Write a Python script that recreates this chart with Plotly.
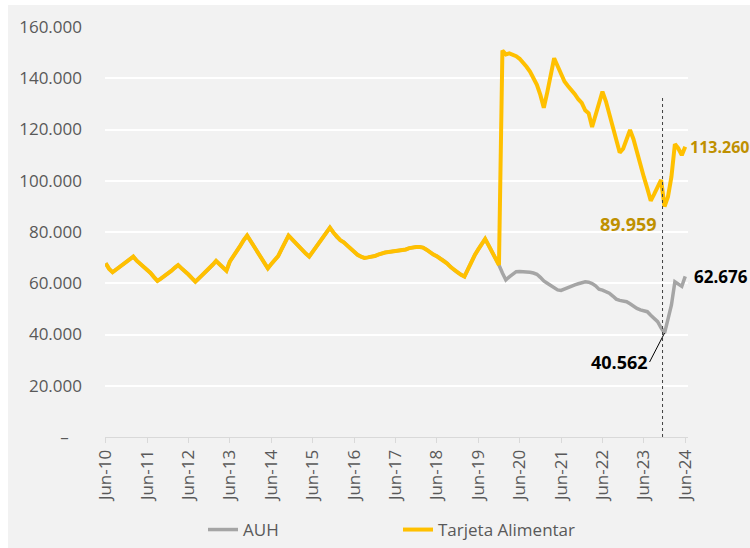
import pandas as pd
import plotly.graph_objects as go

# Monthly labels Jun-10 .. Jun-24
months = pd.date_range("2010-06-01", "2024-06-01", freq="MS").strftime("%b-%y").tolist()

# Values common to both series before the Tarjeta Alimentar started (Jun-10 .. Dec-19)
shared_pre2020 = [
    67800, 65600, 64300, 65300, 66500, 67600, 68600, 69400, 70400, 68800,
    67600, 66600, 65600, 64000, 62400, 60900, 61800, 62700, 63600, 64800,
    66000, 67100, 65800, 64800, 63400, 62000, 60600, 61900, 63100, 64300,
    65800, 67200, 68700, 67400, 66100, 64900, 68500, 70400, 72400, 74600,
    76800, 78600, 76500, 74400, 72300, 70100, 68000, 65800, 67500, 69000,
    70600, 73300, 76000, 78600, 77200, 75700, 74300, 72900, 71600, 70400,
    72300, 74200, 76100, 78000, 79900, 81700, 79800, 78000, 76800, 76000,
    74700, 73400, 72000, 71100, 70400, 69900, 70100, 70300, 70600, 71200,
    71700, 72000, 72200, 72400, 72500, 72600, 72800, 73200, 73700, 74000,
    74100, 74100, 73900, 73100, 72000, 71200, 70500, 69700, 68800, 67700,
    66300, 65200, 64200, 63300, 62600, 65500, 68500, 71000, 73200, 75300,
    77300, 74800, 72300, 69700, 67100,
]

# Jan-20 .. Jun-24
auh_post = [
    64000, 61300, 62500, 63600, 64500, 64600, 64600, 64500, 64300, 64000,
    63500, 62300, 60900, 60000, 59000, 58000, 57400, 57200, 57800, 58500,
    59000, 59400, 59800, 60200, 60600, 60400, 59900, 59000, 57700, 57300,
    56700, 56100, 55000, 53800, 53300, 53100, 52800, 52000, 51000, 50200,
    49600, 49300, 48900, 47500, 46000, 45000, 42600, 40562, 46000, 51500,
    60600, 59600, 58800, 62676,
]
tarjeta_post = [
    150800, 149300, 149700, 149200, 148600, 147600, 146300, 144500, 142600, 140200,
    137400, 133500, 128500, 134500, 141000, 147800, 144800, 141700, 138700, 137000,
    135600, 133800, 131800, 130400, 127500, 126300, 121000, 125500, 130000, 134800,
    131000, 126000, 121100, 116500, 111000, 112500, 115800, 119800, 116200, 111000,
    105500, 101500, 97000, 92200, 94800, 97500, 100300, 89959, 93800, 101600,
    114300, 112600, 110000, 113260,
]

auh = shared_pre2020 + auh_post
tarjeta = shared_pre2020 + tarjeta_post

y_ticks = [0, 20000, 40000, 60000, 80000, 100000, 120000, 140000, 160000]
y_labels = ["–\u00a0\u00a0\u00a0", "20.000", "40.000", "60.000", "80.000",
            "100.000", "120.000", "140.000", "160.000"]
x_ticks = [m for m in months if m.startswith("Jun")]

highlight = "Dec-23"
line_top = 132500

YELLOW = "#FFC000"
GREY = "#A5A5A5"
GOLD = "#BF9000"
TXT = "#595959"

fig = go.Figure()
fig.add_trace(go.Scatter(x=months, y=auh, mode="lines", name="AUH",
                         line=dict(color=GREY, width=3.5)))
fig.add_trace(go.Scatter(x=months, y=tarjeta, mode="lines", name="Tarjeta Alimentar",
                         line=dict(color=YELLOW, width=4)))

hi_idx = months.index(highlight)

fig.update_layout(
    width=750, height=548, autosize=False,
    margin=dict(l=105, r=62, t=27, b=111, pad=0, autoexpand=False),
    paper_bgcolor="white", plot_bgcolor="#F2F2F2",
    font=dict(family="Open Sans", size=17, color=TXT),
    separators=",.",
    showlegend=True,
    legend=dict(orientation="h", xref="container", yref="container",
                x=203 / 750, xanchor="left", y=1 - 530 / 548, yanchor="middle",
                entrywidth=150, entrywidthmode="pixels", bgcolor="rgba(0,0,0,0)",
                font=dict(size=17, color=TXT), traceorder="normal"),
    xaxis=dict(type="category", range=[-0.2, 168.8], tickvals=x_ticks, ticktext=x_ticks,
               tickangle=-90, ticks="outside", ticklen=5, tickcolor="#D9D9D9",
               showline=True, linecolor="#D9D9D9", linewidth=1, showgrid=False,
               automargin=False, tickfont=dict(size=17, color=TXT)),
    yaxis=dict(range=[0, 160000], tickvals=y_ticks, ticktext=y_labels,
               showgrid=True, gridcolor="white", gridwidth=1.5, zeroline=False,
               automargin=False, ticks="", ticklabelstandoff=22,
               tickfont=dict(size=17, color=TXT)),
    shapes=[
        dict(type="rect", xref="paper", yref="paper", x0=-0.1664, x1=1.1063,
             y0=-0.2707, y1=1.0537, fillcolor="#F2F2F2", line=dict(width=0), layer="below"),
        dict(type="line", xref="x", yref="y", xsizemode="pixel", xanchor=highlight,
             x0=-2, x1=-2, y0=0, y1=line_top, line=dict(color="#404040", width=1, dash="dot")),
    ],
    annotations=[
        dict(x=months[-1], y=tarjeta[-1], xref="x", yref="y", text="<b>113.260</b>",
             showarrow=False, xanchor="left", yanchor="middle", xshift=3,
             font=dict(size=16, color=GOLD)),
        dict(x=months[-1], y=auh[-1], xref="x", yref="y", text="<b>62.676</b>",
             showarrow=False, xanchor="left", yanchor="middle", xshift=7,
             font=dict(size=17, color="black")),
        dict(x=highlight, y=tarjeta[hi_idx], xref="x", yref="y", text="<b>89.959</b>",
             showarrow=False, xanchor="right", yanchor="middle", xshift=-6, yshift=-18,
             font=dict(size=18, color=GOLD)),
        dict(x=highlight, y=auh[hi_idx], xref="x", yref="y", text="<b>40.562</b>",
             showarrow=True, arrowhead=0, arrowwidth=1, arrowcolor="black",
             ax=-15, ay=29, xanchor="right", yanchor="middle",
             font=dict(size=18, color="black")),
    ],
)

fig.write_html("out.html")
